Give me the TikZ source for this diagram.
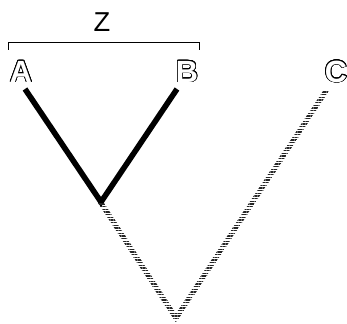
\documentclass[tikz,border=0pt]{standalone}
\usepackage{fontspec}
\setmainfont{Liberation Sans}
\usepackage[copies]{contour}
\contourlength{0.55pt}
\contournumber{24}
\usetikzlibrary{patterns.meta}
\begin{document}
\begin{tikzpicture}[x=0.75pt,y=-0.75pt,
  lbl/.style={inner sep=0pt,font=\fontsize{23}{25}\selectfont\bfseries,text=white},
  zlbl/.style={inner sep=0pt,font=\fontsize{20.5}{22}\selectfont},
  blk/.style={line width=4.2pt,line join=miter,line cap=butt},
  hatch/.style={pattern={Lines[angle=0,distance=2pt,line width=1.2pt]},pattern color=black!85},
  brack/.style={line width=0.75pt}]
\useasboundingbox (0,0) rectangle (347,324);
% labels
\node[zlbl] (Z) at (102,22) {Z};
\node[lbl] (A) at (21,72) {\contour{black}{A}};
\node[lbl] (B) at (187,72) {\contour{black}{B}};
\node[lbl] (C) at (336,72) {\contour{black}{C}};
% bracket
\coordinate (bl) at (8,50);
\coordinate (br) at (199,50);
\draw[brack] (bl) -- ++(0,-7.5) -| (br);
% black branches
\coordinate (a1) at (25,89);
\coordinate (b1) at (177,89);
\coordinate (v1) at (101,202);
\draw[blk] (a1) -- (v1) -- (b1);
% grey hatched branches
\coordinate (o1) at (98,203);
\coordinate (o2) at (176,322.6);
\coordinate (o3) at (329,91);
\coordinate (i3) at (323,91);
\coordinate (i2) at (176,313.5);
\coordinate (i1) at (104,203);
\fill[hatch] (o1) -- (o2) -- (o3) -- (i3) -- (i2) -- (i1) -- cycle;
\end{tikzpicture}
\end{document}
